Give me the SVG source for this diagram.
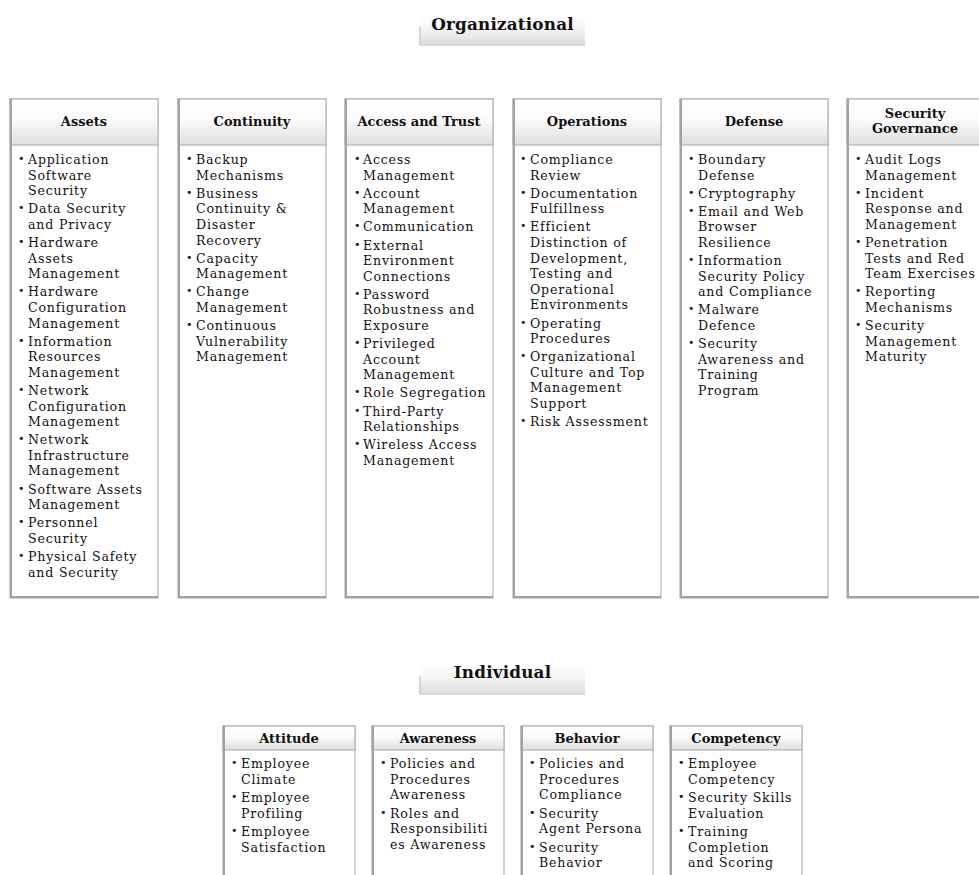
<svg xmlns="http://www.w3.org/2000/svg" width="979" height="875" viewBox="0 0 979 875">
  <defs>
    <linearGradient id="hg" x1="0" y1="0" x2="0" y2="1">
      <stop offset="0" stop-color="#ffffff"/>
      <stop offset="0.45" stop-color="#fbfbfb"/>
      <stop offset="1" stop-color="#dedede"/>
    </linearGradient>
    <linearGradient id="tg" x1="0" y1="0" x2="0" y2="1">
      <stop offset="0" stop-color="#ffffff"/>
      <stop offset="0.4" stop-color="#f8f8f8"/>
      <stop offset="1" stop-color="#dcdcdc"/>
    </linearGradient>
  </defs>
  <style>
    .box { fill: #ffffff; stroke: #b4b4b4; stroke-width: 1.2; }
    .edge { stroke: #a2a2a2; stroke-width: 2; fill: none; }
    .hdr { fill: url(#hg); stroke: #b4b4b4; stroke-width: 1.2; }
    .tbar { fill: url(#tg); }
    .tedge { stroke: #cfcfcf; stroke-width: 1.5; fill: none; }
    .title { font-family: "DejaVu Serif", "Liberation Serif", serif; font-weight: bold; font-size: 16.8px; text-anchor: middle; fill: #111; letter-spacing: 0.2px; }
    .h { font-family: "DejaVu Serif", "Liberation Serif", serif; font-weight: bold; font-size: 13px; text-anchor: middle; fill: #111; }
    .t { font-family: "DejaVu Serif", "Liberation Serif", serif; font-size: 12.6px; letter-spacing: 0.8px; fill: #111; }
    .b { font-family: "DejaVu Sans", sans-serif; font-size: 11px; fill: #111; }
  </style>

  <rect width="979" height="875" fill="#ffffff"/>

  <!-- section titles -->
  <g id="title-organizational">
    <rect class="tbar" x="419" y="14" width="166" height="31"/>
    <path class="tedge" d="M419.8 27 V45 H585"/>
    <text class="title" x="502.5" y="30">Organizational</text>
  </g>
  <g id="title-individual">
    <rect class="tbar" x="419" y="663" width="166" height="31"/>
    <path class="tedge" d="M419.8 676 V694 H585"/>
    <text class="title" x="502.5" y="678">Individual</text>
  </g>

  <g id="connectors"/>

  <!-- organizational columns: box 148 wide, 99..598, header to 145 -->
  <g id="assets">
    <rect class="box" x="10" y="99" width="148" height="499"/>
    <rect class="hdr" x="10" y="99" width="148" height="46"/>
    <path class="edge" d="M11 99 V597 H158"/>
    <text class="h" x="84" y="126">Assets</text>
    <text class="b" x="18" y="162">•</text>
    <text class="t" x="28" y="164">Application</text>
    <text class="t" x="28" y="179.6">Software</text>
    <text class="t" x="28" y="195.2">Security</text>
    <text class="b" x="18" y="211.3">•</text>
    <text class="t" x="28" y="213.3">Data Security</text>
    <text class="t" x="28" y="228.9">and Privacy</text>
    <text class="b" x="18" y="245">•</text>
    <text class="t" x="28" y="247">Hardware</text>
    <text class="t" x="28" y="262.6">Assets</text>
    <text class="t" x="28" y="278.2">Management</text>
    <text class="b" x="18" y="294.3">•</text>
    <text class="t" x="28" y="296.3">Hardware</text>
    <text class="t" x="28" y="311.9">Configuration</text>
    <text class="t" x="28" y="327.5">Management</text>
    <text class="b" x="18" y="343.6">•</text>
    <text class="t" x="28" y="345.6">Information</text>
    <text class="t" x="28" y="361.2">Resources</text>
    <text class="t" x="28" y="376.8">Management</text>
    <text class="b" x="18" y="392.9">•</text>
    <text class="t" x="28" y="394.9">Network</text>
    <text class="t" x="28" y="410.5">Configuration</text>
    <text class="t" x="28" y="426.1">Management</text>
    <text class="b" x="18" y="442.2">•</text>
    <text class="t" x="28" y="444.2">Network</text>
    <text class="t" x="28" y="459.8">Infrastructure</text>
    <text class="t" x="28" y="475.4">Management</text>
    <text class="b" x="18" y="491.5">•</text>
    <text class="t" x="28" y="493.5">Software Assets</text>
    <text class="t" x="28" y="509.1">Management</text>
    <text class="b" x="18" y="525.2">•</text>
    <text class="t" x="28" y="527.2">Personnel</text>
    <text class="t" x="28" y="542.8">Security</text>
    <text class="b" x="18" y="558.9">•</text>
    <text class="t" x="28" y="560.9">Physical Safety</text>
    <text class="t" x="28" y="576.5">and Security</text>
  </g>

  <g id="continuity">
    <rect class="box" x="178" y="99" width="148" height="499"/>
    <rect class="hdr" x="178" y="99" width="148" height="46"/>
    <path class="edge" d="M179 99 V597 H326"/>
    <text class="h" x="252" y="126">Continuity</text>
    <text class="b" x="186" y="162">•</text>
    <text class="t" x="196" y="164">Backup</text>
    <text class="t" x="196" y="179.6">Mechanisms</text>
    <text class="b" x="186" y="195.7">•</text>
    <text class="t" x="196" y="197.7">Business</text>
    <text class="t" x="196" y="213.3">Continuity &amp;</text>
    <text class="t" x="196" y="228.9">Disaster</text>
    <text class="t" x="196" y="244.5">Recovery</text>
    <text class="b" x="186" y="260.6">•</text>
    <text class="t" x="196" y="262.6">Capacity</text>
    <text class="t" x="196" y="278.2">Management</text>
    <text class="b" x="186" y="294.3">•</text>
    <text class="t" x="196" y="296.3">Change</text>
    <text class="t" x="196" y="311.9">Management</text>
    <text class="b" x="186" y="328">•</text>
    <text class="t" x="196" y="330">Continuous</text>
    <text class="t" x="196" y="345.6">Vulnerability</text>
    <text class="t" x="196" y="361.2">Management</text>
  </g>

  <g id="access-and-trust">
    <rect class="box" x="345" y="99" width="148" height="499"/>
    <rect class="hdr" x="345" y="99" width="148" height="46"/>
    <path class="edge" d="M346 99 V597 H493"/>
    <text class="h" x="419" y="126">Access and Trust</text>
    <text class="b" x="354" y="162">•</text>
    <text class="t" x="363" y="164">Access</text>
    <text class="t" x="363" y="179.6">Management</text>
    <text class="b" x="354" y="195.7">•</text>
    <text class="t" x="363" y="197.7">Account</text>
    <text class="t" x="363" y="213.3">Management</text>
    <text class="b" x="354" y="229.4">•</text>
    <text class="t" x="363" y="231.4">Communication</text>
    <text class="b" x="354" y="247.5">•</text>
    <text class="t" x="363" y="249.5">External</text>
    <text class="t" x="363" y="265.1">Environment</text>
    <text class="t" x="363" y="280.7">Connections</text>
    <text class="b" x="354" y="296.8">•</text>
    <text class="t" x="363" y="298.8">Password</text>
    <text class="t" x="363" y="314.4">Robustness and</text>
    <text class="t" x="363" y="330">Exposure</text>
    <text class="b" x="354" y="346.1">•</text>
    <text class="t" x="363" y="348.1">Privileged</text>
    <text class="t" x="363" y="363.7">Account</text>
    <text class="t" x="363" y="379.3">Management</text>
    <text class="b" x="354" y="395.4">•</text>
    <text class="t" x="363" y="397.4">Role Segregation</text>
    <text class="b" x="354" y="413.5">•</text>
    <text class="t" x="363" y="415.5">Third-Party</text>
    <text class="t" x="363" y="431.1">Relationships</text>
    <text class="b" x="354" y="447.2">•</text>
    <text class="t" x="363" y="449.2">Wireless Access</text>
    <text class="t" x="363" y="464.8">Management</text>
  </g>

  <g id="operations">
    <rect class="box" x="513" y="99" width="148" height="499"/>
    <rect class="hdr" x="513" y="99" width="148" height="46"/>
    <path class="edge" d="M514 99 V597 H661"/>
    <text class="h" x="587" y="126">Operations</text>
    <text class="b" x="520" y="162">•</text>
    <text class="t" x="530" y="164">Compliance</text>
    <text class="t" x="530" y="179.6">Review</text>
    <text class="b" x="520" y="195.7">•</text>
    <text class="t" x="530" y="197.7">Documentation</text>
    <text class="t" x="530" y="213.3">Fulfillness</text>
    <text class="b" x="520" y="229.4">•</text>
    <text class="t" x="530" y="231.4">Efficient</text>
    <text class="t" x="530" y="247">Distinction of</text>
    <text class="t" x="530" y="262.6">Development,</text>
    <text class="t" x="530" y="278.2">Testing and</text>
    <text class="t" x="530" y="293.8">Operational</text>
    <text class="t" x="530" y="309.4">Environments</text>
    <text class="b" x="520" y="325.5">•</text>
    <text class="t" x="530" y="327.5">Operating</text>
    <text class="t" x="530" y="343.1">Procedures</text>
    <text class="b" x="520" y="359.2">•</text>
    <text class="t" x="530" y="361.2">Organizational</text>
    <text class="t" x="530" y="376.8">Culture and Top</text>
    <text class="t" x="530" y="392.4">Management</text>
    <text class="t" x="530" y="408">Support</text>
    <text class="b" x="520" y="424.1">•</text>
    <text class="t" x="530" y="426.1">Risk Assessment</text>
  </g>

  <g id="defense">
    <rect class="box" x="680" y="99" width="148" height="499"/>
    <rect class="hdr" x="680" y="99" width="148" height="46"/>
    <path class="edge" d="M681 99 V597 H828"/>
    <text class="h" x="754" y="126">Defense</text>
    <text class="b" x="688" y="162">•</text>
    <text class="t" x="698" y="164">Boundary</text>
    <text class="t" x="698" y="179.6">Defense</text>
    <text class="b" x="688" y="195.7">•</text>
    <text class="t" x="698" y="197.7">Cryptography</text>
    <text class="b" x="688" y="213.8">•</text>
    <text class="t" x="698" y="215.8">Email and Web</text>
    <text class="t" x="698" y="231.4">Browser</text>
    <text class="t" x="698" y="247">Resilience</text>
    <text class="b" x="688" y="263.1">•</text>
    <text class="t" x="698" y="265.1">Information</text>
    <text class="t" x="698" y="280.7">Security Policy</text>
    <text class="t" x="698" y="296.3">and Compliance</text>
    <text class="b" x="688" y="312.4">•</text>
    <text class="t" x="698" y="314.4">Malware</text>
    <text class="t" x="698" y="330">Defence</text>
    <text class="b" x="688" y="346.1">•</text>
    <text class="t" x="698" y="348.1">Security</text>
    <text class="t" x="698" y="363.7">Awareness and</text>
    <text class="t" x="698" y="379.3">Training</text>
    <text class="t" x="698" y="394.9">Program</text>
  </g>

  <g id="security-governance">
    <rect class="box" x="847" y="99" width="148" height="499"/>
    <rect class="hdr" x="847" y="99" width="148" height="46"/>
    <path class="edge" d="M848 99 V597 H979"/>
    <text class="h" x="915" y="118">Security</text>
    <text class="h" x="915" y="133">Governance</text>
    <text class="b" x="855" y="162">•</text>
    <text class="t" x="865" y="164">Audit Logs</text>
    <text class="t" x="865" y="179.6">Management</text>
    <text class="b" x="855" y="195.7">•</text>
    <text class="t" x="865" y="197.7">Incident</text>
    <text class="t" x="865" y="213.3">Response and</text>
    <text class="t" x="865" y="228.9">Management</text>
    <text class="b" x="855" y="245">•</text>
    <text class="t" x="865" y="247">Penetration</text>
    <text class="t" x="865" y="262.6">Tests and Red</text>
    <text class="t" x="865" y="278.2">Team Exercises</text>
    <text class="b" x="855" y="294.3">•</text>
    <text class="t" x="865" y="296.3">Reporting</text>
    <text class="t" x="865" y="311.9">Mechanisms</text>
    <text class="b" x="855" y="328">•</text>
    <text class="t" x="865" y="330">Security</text>
    <text class="t" x="865" y="345.6">Management</text>
    <text class="t" x="865" y="361.2">Maturity</text>
  </g>

  <!-- individual columns: box 132 wide, from 726, header to 750 -->
  <g id="attitude">
    <rect class="box" x="223" y="726" width="132" height="160"/>
    <rect class="hdr" x="223" y="726" width="132" height="24"/>
    <path class="edge" d="M224 726 V875"/>
    <text class="h" x="289" y="743">Attitude</text>
    <text class="b" x="231" y="766">•</text>
    <text class="t" x="241" y="768">Employee</text>
    <text class="t" x="241" y="783.5">Climate</text>
    <text class="b" x="231" y="800">•</text>
    <text class="t" x="241" y="802">Employee</text>
    <text class="t" x="241" y="817.5">Profiling</text>
    <text class="b" x="231" y="834">•</text>
    <text class="t" x="241" y="836">Employee</text>
    <text class="t" x="241" y="851.5">Satisfaction</text>
  </g>

  <g id="awareness">
    <rect class="box" x="372" y="726" width="132" height="160"/>
    <rect class="hdr" x="372" y="726" width="132" height="24"/>
    <path class="edge" d="M373 726 V875"/>
    <text class="h" x="438" y="743">Awareness</text>
    <text class="b" x="380" y="766">•</text>
    <text class="t" x="390" y="768">Policies and</text>
    <text class="t" x="390" y="783.5">Procedures</text>
    <text class="t" x="390" y="799">Awareness</text>
    <text class="b" x="380" y="815.5">•</text>
    <text class="t" x="390" y="817.5">Roles and</text>
    <text class="t" x="390" y="833">Responsibiliti</text>
    <text class="t" x="390" y="848.5">es Awareness</text>
  </g>

  <g id="behavior">
    <rect class="box" x="521" y="726" width="132" height="160"/>
    <rect class="hdr" x="521" y="726" width="132" height="24"/>
    <path class="edge" d="M522 726 V875"/>
    <text class="h" x="587" y="743">Behavior</text>
    <text class="b" x="529" y="766">•</text>
    <text class="t" x="539" y="768">Policies and</text>
    <text class="t" x="539" y="783.5">Procedures</text>
    <text class="t" x="539" y="799">Compliance</text>
    <text class="b" x="529" y="815.5">•</text>
    <text class="t" x="539" y="817.5">Security</text>
    <text class="t" x="539" y="833">Agent Persona</text>
    <text class="b" x="529" y="849.5">•</text>
    <text class="t" x="539" y="851.5">Security</text>
    <text class="t" x="539" y="867">Behavior</text>
  </g>

  <g id="competency">
    <rect class="box" x="670" y="726" width="132" height="160"/>
    <rect class="hdr" x="670" y="726" width="132" height="24"/>
    <path class="edge" d="M671 726 V875"/>
    <text class="h" x="736" y="743">Competency</text>
    <text class="b" x="678" y="766">•</text>
    <text class="t" x="688" y="768">Employee</text>
    <text class="t" x="688" y="783.5">Competency</text>
    <text class="b" x="678" y="800">•</text>
    <text class="t" x="688" y="802">Security Skills</text>
    <text class="t" x="688" y="817.5">Evaluation</text>
    <text class="b" x="678" y="834">•</text>
    <text class="t" x="688" y="836">Training</text>
    <text class="t" x="688" y="851.5">Completion</text>
    <text class="t" x="688" y="867">and Scoring</text>
  </g>
</svg>
